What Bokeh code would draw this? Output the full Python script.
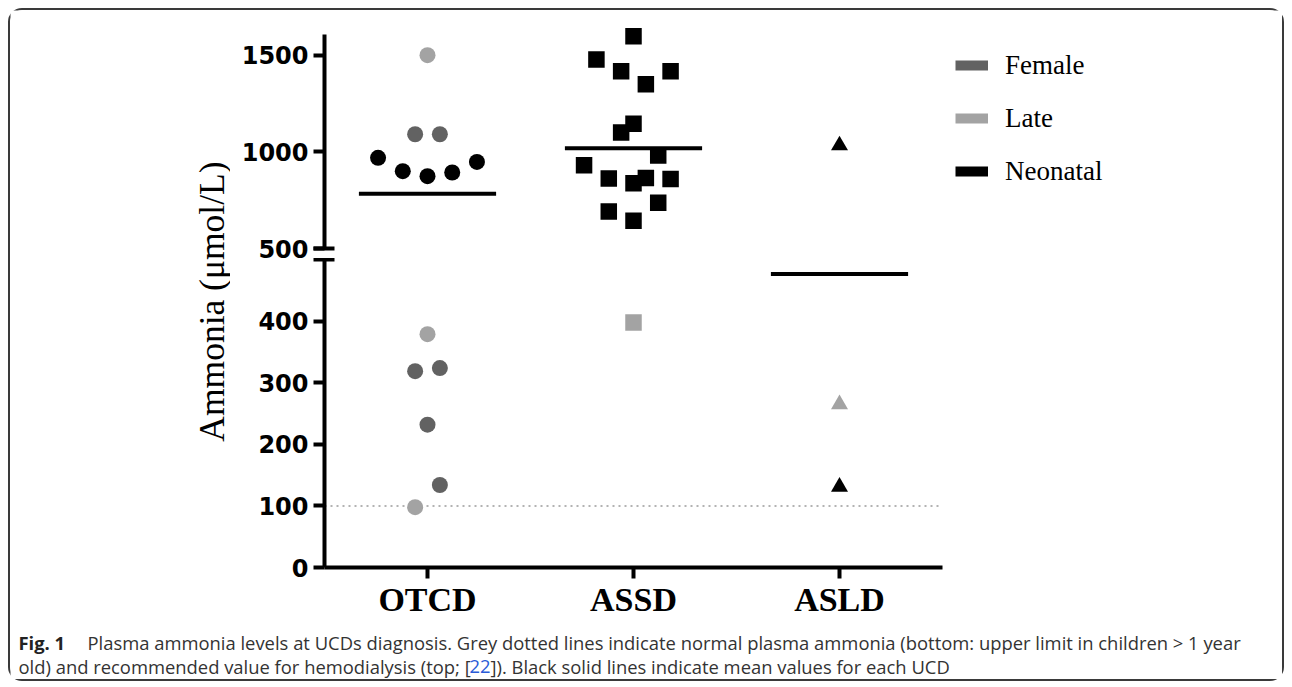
from bokeh.plotting import figure
from bokeh.models import (ColumnDataSource, Range1d, FixedTicker, Legend, LegendItem, Label,
                          GridBox)
from bokeh.embed import file_html
from bokeh.resources import INLINE

# ---------------- data ----------------
categories = ["OTCD", "ASSD", "ASLD"]
group_names = ["Female", "Late", "Neonatal"]
group_colors = ["#626262", "#a3a3a3", "#000000"]
category_markers = ["circle", "square", "triangle"]
category_marker_sizes = [16, 16.5, 17]

otcd_values = [1500, 379, 98, 1091, 1091, 319, 324, 232, 134, 969, 900, 874, 893, 948]
otcd_groups = ["Late", "Late", "Late", "Female", "Female", "Female", "Female", "Female",
               "Female", "Neonatal", "Neonatal", "Neonatal", "Neonatal", "Neonatal"]
otcd_slots = [0, 0, -1, -1, 1, -1, 1, 0, 1, -4, -2, 0, 2, 4]

assd_values = [1598, 1478, 1417, 1417, 1350, 1145, 1100, 981, 931, 862, 837, 864, 859,
               736, 692, 643, 398]
assd_groups = ["Neonatal"] * 16 + ["Late"]
assd_slots = [0, -3, -1, 3, 1, 0, -1, 2, -4, -2, 0, 1, 3, 2, -2, 0, 0]

asld_values = [1033, 265, 131]
asld_groups = ["Neonatal", "Late", "Neonatal"]
asld_slots = [0, 0, 0]

mean_values = [783, 1019, 477]
normal_limit = [100]
upper_ticks = [500, 1000, 1500]
lower_ticks = [0, 100, 200, 300, 400]
axis_break = 500
upper_axis_end = 1605

y_label = "Ammonia (\u03bcmol/L)"
caption_bold = "Fig. 1"
caption_line1 = ("Plasma ammonia levels at UCDs diagnosis. Grey dotted lines indicate normal "
                 "plasma ammonia (bottom: upper limit in children > 1 year")
caption_line2_a = "old) and recommended value for hemodialysis (top; ["
caption_line2_ref = "22"
caption_line2_b = "]). Black solid lines indicate mean values for each UCD"

# ---------------- helpers ----------------
SLOT = 0.06          # horizontal step of the swarm, in category widths
MEAN_HALF = 0.333    # half length of a mean bar, in category widths
cat_pos = {c: i + 0.5 for i, c in enumerate(categories)}
series = [("OTCD", otcd_values, otcd_groups, otcd_slots),
          ("ASSD", assd_values, assd_groups, assd_slots),
          ("ASLD", asld_values, asld_groups, asld_slots)]


def points_source(lo, hi):
    d = dict(x=[], y=[], color=[], marker=[], size=[])
    for cat, vals, grps, slots in series:
        ci = categories.index(cat)
        for v, g, s in zip(vals, grps, slots):
            if lo <= v < hi:
                d["x"].append(cat_pos[cat] + s * SLOT)
                d["y"].append(v)
                d["color"].append(group_colors[group_names.index(g)])
                d["marker"].append(category_markers[ci])
                d["size"].append(category_marker_sizes[ci])
    return ColumnDataSource(d)


def mean_source(lo, hi):
    d = dict(x0=[], x1=[], y=[])
    for cat, m in zip(categories, mean_values):
        if lo <= m < hi:
            d["x0"].append(cat_pos[cat] - MEAN_HALF)
            d["x1"].append(cat_pos[cat] + MEAN_HALF)
            d["y"].append(m)
    return ColumnDataSource(d)


def style_yaxis(p, ticks, bounds):
    ax = p.yaxis[0]
    ax.ticker = FixedTicker(ticks=ticks, minor_ticks=[axis_break])
    ax.bounds = bounds
    ax.axis_line_width = 4
    ax.axis_line_color = "black"
    ax.major_tick_line_width = 4
    ax.major_tick_out = 11
    ax.major_tick_in = 0
    ax.minor_tick_line_width = 4
    ax.minor_tick_in = 10
    ax.minor_tick_out = 11
    ax.minor_tick_line_color = "black"
    ax.major_label_text_font = "DejaVu Sans"
    ax.major_label_text_font_style = "bold"
    ax.major_label_text_font_size = "24px"
    ax.major_label_text_color = "black"
    ax.major_label_standoff = 5


def draw_panel(p, lo, hi):
    p.scatter(x="x", y="y", marker="marker", size="size", fill_color="color",
              line_color=None, source=points_source(lo, hi))
    p.segment(x0="x0", y0="y", x1="x1", y1="y", line_width=4, line_color="black",
              source=mean_source(lo, hi))


W_MAIN = 1052
FRAME_W = W_MAIN - 94
x_end = FRAME_W / 206.0
xr = Range1d(0, x_end)
common = dict(width=W_MAIN, x_range=xr, toolbar_location=None, output_backend="svg",
              min_border_left=94, min_border_right=0, outline_line_color=None)

# ---------------- upper panel ----------------
# its canvas reaches 6 px under the top of the lower panel, so the "500" label is whole
OVERLAP = 6
UPPER_H = 238 + 10 + OVERLAP
upper = figure(height=UPPER_H, y_range=Range1d(axis_break, 1731),
               x_axis_location=None, min_border_top=0, min_border_bottom=10 + OVERLAP,
               background_fill_color="white", border_fill_color="white", **common)
upper.grid.visible = False
style_yaxis(upper, upper_ticks, (axis_break, upper_axis_end))
draw_panel(upper, axis_break, 1e9)

legend_items = []
for name, col in zip(group_names, group_colors):
    r = upper.line(x=[0], y=[float("nan")], line_width=10, line_color=col)
    legend_items.append(LegendItem(label=name, renderers=[r]))
legend = Legend(items=legend_items, location=(631, 61), padding=0, margin=0,
                spacing=21, label_height=32, glyph_height=32, glyph_width=33,
                label_standoff=17, border_line_alpha=0, background_fill_alpha=0,
                label_text_font="Liberation Serif", label_text_font_size="27px",
                label_text_color="black")
upper.add_layout(legend)

# ---------------- lower panel ----------------
LOWER_B = 54
LOWER_H = 309 + LOWER_B + OVERLAP
lower = figure(height=LOWER_H, y_range=Range1d(0, 502), min_border_top=0,
               min_border_bottom=LOWER_B, margin=(-OVERLAP, 0, 0, 0),
               background_fill_alpha=0, border_fill_alpha=0, **common)
lower.grid.visible = False
style_yaxis(lower, lower_ticks, (0, axis_break))
lower.segment(x0=[0], x1=[len(categories)], y0=normal_limit, y1=normal_limit,
              line_color="#9a9a9a", line_dash="2 4", line_width=1.5)
draw_panel(lower, 0, axis_break)
xa = lower.xaxis[0]
xa.ticker = FixedTicker(ticks=[cat_pos[c] for c in categories])
xa.major_label_overrides = {cat_pos[c]: c for c in categories}
xa.bounds = (0, len(categories))
xa.axis_line_width = 4
xa.axis_line_color = "black"
xa.major_tick_line_width = 4
xa.major_tick_out = 11
xa.major_tick_in = 0
xa.minor_tick_out = 0
xa.minor_tick_in = 0
xa.major_label_text_font = "Liberation Serif"
xa.major_label_text_font_style = "bold"
xa.major_label_text_font_size = "34px"
xa.major_label_text_color = "black"
xa.major_label_standoff = 2

# ---------------- y label ----------------
LAB_W = 220
LAB_H = UPPER_H + LOWER_H - OVERLAP
lab = figure(width=LAB_W, height=LAB_H, x_range=Range1d(0, LAB_W), y_range=Range1d(0, LAB_H),
             toolbar_location=None, output_backend="svg", min_border=0,
             x_axis_location=None, y_axis_location=None, outline_line_color=None)
lab.grid.visible = False
lab.add_layout(Label(x=201, y=LAB_H - 319, text=y_label, angle=90, angle_units="deg",
                     text_align="center", text_baseline="middle",
                     text_font="Liberation Serif", text_font_size="35.5px",
                     text_color="black"))

# ---------------- caption ----------------
CAP_W, CAP_H = 1272, 52
cap = figure(width=CAP_W, height=CAP_H, x_range=Range1d(0, CAP_W), y_range=Range1d(0, CAP_H),
             toolbar_location=None, output_backend="svg", min_border=0,
             x_axis_location=None, y_axis_location=None, outline_line_color=None)
cap.grid.visible = False
cap_font = dict(text_font="Open Sans", text_font_size="18.4px", text_baseline="alphabetic")
cap.add_layout(Label(x=8, y=37, text=caption_bold, text_font_style="bold",
                     text_color="#222222", **cap_font))
cap.add_layout(Label(x=77, y=37, text=caption_line1, text_color="#333333", **cap_font))
cap.add_layout(Label(x=8, y=13, text=caption_line2_a, text_color="#333333", **cap_font))
cap.add_layout(Label(x=459, y=13, text=caption_line2_ref, text_color="#2a5bd7", **cap_font))
cap.add_layout(Label(x=480, y=13, text=caption_line2_b, text_color="#333333", **cap_font))

grid = GridBox(children=[(lab, 0, 0, 2, 1), (upper, 0, 1), (lower, 1, 1), (cap, 2, 0, 1, 2)],
               spacing=0, margin=(8, 0, 0, 8),
               styles={"border": "2px solid #3a3a3a", "border-radius": "14px",
                       "background-color": "white"})

open("out.html", "w").write(file_html(grid, INLINE))
